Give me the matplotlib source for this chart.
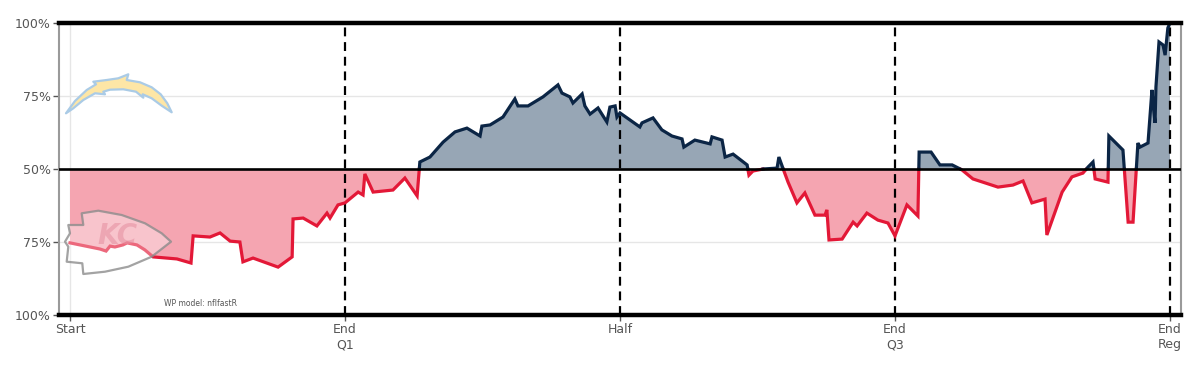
import numpy as np
import matplotlib
matplotlib.use("Agg")
import matplotlib.pyplot as plt
from matplotlib.patches import Polygon

# ---- data (game seconds elapsed, Chargers win probability) ----
game_seconds = [0, 65, 98, 118, 131, 147, 173, 187, 219, 245, 272, 350, 396, 403, 458,
                491, 524, 556, 566, 599, 681, 727, 730, 763, 808, 841, 851, 877, 900,
                943, 959, 965, 992, 1057, 1096, 1136, 1145, 1178, 1221, 1260, 1299,
                1342, 1348, 1375, 1417, 1456, 1466, 1499, 1548, 1597, 1610, 1636, 1646,
                1676, 1685, 1702, 1728, 1757, 1767, 1784, 1790, 1800, 1865, 1872, 1908,
                1937, 1970, 2003, 2009, 2045, 2095, 2101, 2134, 2144, 2170, 2216, 2222,
                2235, 2268, 2314, 2320, 2333, 2350, 2379, 2405, 2438, 2471, 2477, 2484,
                2527, 2563, 2576, 2608, 2644, 2677, 2700, 2739, 2775, 2779, 2818, 2847,
                2887, 2919, 2955, 3037, 3086, 3119, 3148, 3191, 3197, 3247, 3279, 3315,
                3332, 3348, 3355, 3397, 3400, 3446, 3463, 3479, 3495, 3502, 3528, 3541,
                3544, 3551, 3554, 3564, 3577, 3584, 3593, 3600]
lac_wp = [0.247, 0.233, 0.226, 0.219, 0.236, 0.233, 0.240, 0.247, 0.240, 0.223, 0.199,
          0.192, 0.178, 0.271, 0.267, 0.281, 0.253, 0.250, 0.182, 0.195, 0.164, 0.199,
          0.329, 0.332, 0.305, 0.349, 0.332, 0.377, 0.384, 0.421, 0.411, 0.483, 0.421,
          0.428, 0.469, 0.408, 0.524, 0.541, 0.592, 0.627, 0.640, 0.613, 0.647, 0.651,
          0.678, 0.740, 0.716, 0.716, 0.747, 0.788, 0.760, 0.747, 0.726, 0.757, 0.716,
          0.688, 0.709, 0.661, 0.712, 0.716, 0.678, 0.692, 0.644, 0.658, 0.675, 0.634,
          0.613, 0.603, 0.575, 0.599, 0.586, 0.610, 0.599, 0.541, 0.551, 0.514, 0.479,
          0.493, 0.500, 0.503, 0.541, 0.503, 0.455, 0.384, 0.418, 0.342, 0.342, 0.360,
          0.257, 0.260, 0.318, 0.305, 0.349, 0.325, 0.315, 0.271, 0.377, 0.339, 0.558,
          0.558, 0.514, 0.514, 0.497, 0.466, 0.438, 0.445, 0.459, 0.384, 0.397, 0.274,
          0.421, 0.473, 0.486, 0.507, 0.524, 0.466, 0.455, 0.613, 0.565, 0.318, 0.318,
          0.589, 0.575, 0.589, 0.771, 0.729, 0.658, 0.781, 0.935, 0.925, 0.890, 0.983,
          1.000]

x_ticks = [0, 900, 1800, 2700, 3600]
x_labels = ["Start", "End\nQ1", "Half", "End\nQ3", "End\nReg"]
y_ticks = [0, 0.25, 0.5, 0.75, 1.0]
y_labels = ["100%", "75%", "50%", "75%", "100%"]
period_ends = [900, 1800, 2700, 3600]

NAVY = "#0b2545"
NAVY_FILL = "#97a6b5"
RED = "#e31837"
RED_FILL = "#f5a5b1"

# ---- insert 50% crossing points so colours switch cleanly ----
x = np.array(game_seconds, float)
y = np.array(lac_wp, float)
xs, ys = [x[0]], [y[0]]
for i in range(1, len(x)):
    d0, d1 = y[i - 1] - 0.5, y[i] - 0.5
    if d0 * d1 < 0:
        t = d0 / (d0 - d1)
        xs.append(x[i - 1] + t * (x[i] - x[i - 1]))
        ys.append(0.5)
    xs.append(x[i])
    ys.append(y[i])
xs = np.array(xs)
ys = np.array(ys)

fig = plt.figure(figsize=(12, 3.67), dpi=100)
ax = fig.add_axes([59 / 1200, 1 - 315 / 367, (1181 - 59) / 1200, (315 - 23) / 367])
ax.set_xlim(-36, 3636)
ax.set_ylim(0, 1)

# grid
for gy in [0.25, 0.75]:
    ax.axhline(gy, color="#e6e6e6", lw=1, zorder=0)
ax.axvline(0, color="#e6e6e6", lw=1, zorder=0)

# fills
ax.fill_between(xs, ys, 0.5, where=ys >= 0.5, color=NAVY_FILL, lw=0, zorder=1)
ax.fill_between(xs, ys, 0.5, where=ys <= 0.5, color=RED_FILL, lw=0, zorder=1)

# period dashed lines
for pe in period_ends:
    ax.axvline(pe, color="black", lw=1.6, linestyle=(0, (4, 2.6)), zorder=2)

# lines split by side
above = np.where(ys >= 0.5, ys, np.nan)
below = np.where(ys <= 0.5, ys, np.nan)
ax.plot(xs, below, color=RED, lw=2.3, zorder=3, solid_joinstyle="miter")
ax.plot(xs, above, color=NAVY, lw=2.3, zorder=3, solid_joinstyle="miter")

# 50% line and borders
ax.axhline(0.5, color="black", lw=1.9, zorder=4)
ax.axhline(1.0, color="black", lw=3.2, zorder=4, clip_on=False)
ax.axhline(0.0, color="black", lw=3.2, zorder=4, clip_on=False)

for s in ["top", "bottom"]:
    ax.spines[s].set_visible(False)
for s in ["left", "right"]:
    ax.spines[s].set_color("#9a9a9a")
    ax.spines[s].set_linewidth(1.5)

ax.set_xticks(x_ticks)
ax.set_xticklabels(x_labels, fontsize=9, color="#555555", linespacing=1.2)
ax.set_yticks(y_ticks)
ax.set_yticklabels(y_labels, fontsize=9, color="#555555")
ax.tick_params(axis="both", length=4, width=1, color="#555555", pad=2)

fig.text(200 / 1200, 1 - 303 / 367, "WP model: nflfastR", fontsize=5.5, color="#555555",
         ha="center", va="center")


# ---- decorative team logos (approximate) ----
def px(points):
    return [(u / 1200, 1 - v / 367) for u, v in points]


bolt = [(66.0, 113.3), (75.0, 101.0), (86.7, 90.0), (96.0, 84.3), (93.3, 81.7),
        (106.7, 80.0), (118.3, 78.3), (128.3, 74.3), (126.7, 80.0), (140.0, 82.3),
        (151.7, 87.3), (160.7, 94.3), (167.3, 103.3), (171.7, 112.3), (161.7, 105.7),
        (151.7, 98.3), (142.7, 94.3), (143.3, 97.7), (136.0, 91.7), (123.3, 89.3),
        (110.0, 89.7), (103.3, 91.7), (105.0, 94.3), (95.0, 93.3), (83.3, 100.0),
        (73.3, 108.3)]
fig.patches.append(Polygon(px(bolt), closed=True, transform=fig.transFigure,
                           facecolor="#fde6a6", edgecolor="#aacbe6", lw=1.6,
                           joinstyle="round", zorder=5))

arrow = [(81.7, 213.3), (98.3, 210.7), (121.7, 215.0), (145.0, 223.3), (161.7, 233.3),
         (171.0, 241.7), (151.7, 256.7), (128.3, 266.7), (105.0, 271.7), (83.3, 274.0),
         (82.3, 263.3), (66.7, 261.7), (68.3, 246.7), (65.0, 241.7), (70.0, 233.3),
         (68.3, 225.0), (83.3, 225.0)]
fig.patches.append(Polygon(px(arrow), closed=True, transform=fig.transFigure,
                           facecolor=(1, 1, 1, 0.35), edgecolor=(0.55, 0.55, 0.55, 0.8),
                           lw=1.6, joinstyle="round", zorder=5))
fig.text(117 / 1200, 1 - 236 / 367, "KC", fontsize=20, fontweight="bold",
         color=(0.85, 0.35, 0.45, 0.6), ha="center", va="center", style="italic")

fig.savefig("out.png", dpi=100)
